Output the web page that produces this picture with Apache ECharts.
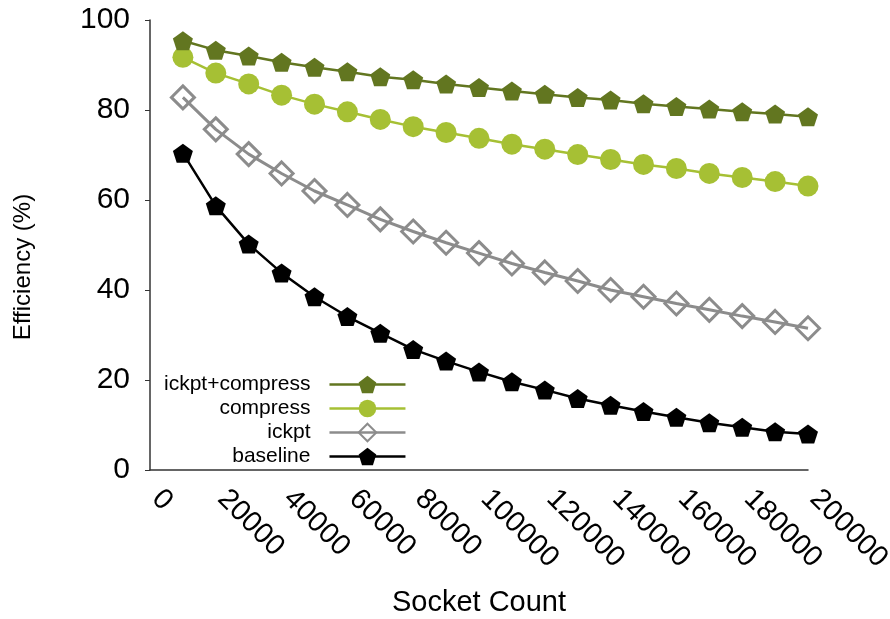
<!DOCTYPE html>
<html>
<head>
<meta charset="utf-8">
<script src="https://cdn.jsdelivr.net/npm/echarts@6/dist/echarts.min.js"></script>
<style>
  html, body { margin: 0; padding: 0; background: #fff; }
  #chart { width: 890px; height: 619px; }
</style>
</head>
<body>
<div id="chart"></div>
<script>
// Socket counts on the x axis
const socketCounts = [10000, 20000, 30000, 40000, 50000, 60000, 70000, 80000, 90000, 100000,
  110000, 120000, 130000, 140000, 150000, 160000, 170000, 180000, 190000, 200000];

// Efficiency (%) for each configuration
const ickptCompress = [95.4, 93.3, 92.0, 90.6, 89.5, 88.5, 87.4, 86.7, 85.8, 85.0,
  84.2, 83.5, 82.8, 82.2, 81.4, 80.8, 80.2, 79.6, 79.1, 78.5];
const compress = [91.7, 88.2, 85.8, 83.3, 81.3, 79.6, 77.9, 76.3, 75.0, 73.7,
  72.4, 71.3, 70.1, 69.0, 67.9, 67.0, 65.9, 65.0, 64.1, 63.1];
const ickpt = [82.8, 75.7, 70.2, 65.9, 62.0, 58.9, 55.7, 53.0, 50.5, 48.2,
  45.9, 43.9, 42.0, 40.0, 38.5, 37.0, 35.6, 34.2, 32.9, 31.5];
const baseline = [70.4, 58.7, 50.2, 43.8, 38.5, 34.1, 30.4, 26.8, 24.2, 21.8,
  19.6, 17.8, 15.9, 14.4, 13.0, 11.7, 10.5, 9.5, 8.5, 8.0];

const seriesNames = ['ickpt+compress', 'compress', 'ickpt', 'baseline'];

const FONT = "'Liberation Sans', Arial, Helvetica, sans-serif";
const PENTAGON = 'path://M0,-1 L0.951,-0.309 L0.588,0.809 L-0.588,0.809 L-0.951,-0.309 Z';

function pairs(values) {
  return values.map((v, i) => [socketCounts[i], v]);
}

const chart = echarts.init(document.getElementById('chart'), null, { renderer: 'canvas' });

chart.setOption({
  animation: false,
  backgroundColor: '#ffffff',
  textStyle: { fontFamily: FONT },
  grid: {
    left: 150, right: 82, top: 20, bottom: 149,
    containLabel: false,
    outerBoundsMode: 'none'
  },
  legend: {
    orient: 'vertical',
    align: 'right',
    left: 159,
    top: 369,
    itemWidth: 76,
    itemHeight: 22,
    itemGap: 3,
    data: seriesNames,
    lineStyle: { width: 2.5 },
    textStyle: {
      fontFamily: FONT,
      fontSize: 21,
      lineHeight: 21,
      color: '#000',
      padding: [0, 14, 0, 0]
    }
  },
  xAxis: {
    type: 'value',
    min: 0,
    max: 200000,
    interval: 20000,
    name: 'Socket Count',
    nameLocation: 'middle',
    nameGap: 118,
    nameMoveOverlap: false,
    nameTextStyle: { fontFamily: FONT, fontSize: 29, color: '#000' },
    axisLine: { show: true, onZero: false, lineStyle: { color: '#333', width: 1.5 } },
    axisTick: { show: false },
    splitLine: { show: false },
    axisLabel: {
      rotate: -45,
      fontFamily: FONT,
      fontSize: 29,
      color: '#000',
      margin: 18,
      padding: [0, 0, 0, 9],
      hideOverlap: false,
      formatter: (v) => String(v)
    }
  },
  yAxis: {
    type: 'value',
    min: 0,
    max: 100,
    interval: 20,
    name: 'Efficiency (%)',
    nameLocation: 'middle',
    nameGap: 115,
    nameMoveOverlap: false,
    nameTextStyle: { fontFamily: FONT, fontSize: 24, color: '#000', padding: [0, 44, 0, 0] },
    axisLine: { show: true, lineStyle: { color: '#333', width: 1.5 } },
    axisTick: { show: true, inside: false, length: 5, lineStyle: { color: '#333', width: 1 } },
    splitLine: { show: false },
    axisLabel: { fontFamily: FONT, fontSize: 30, color: '#000', margin: 20 }
  },
  series: [
    {
      name: 'ickpt+compress',
      type: 'line',
      data: pairs(ickptCompress),
      symbol: PENTAGON,
      symbolSize: [20, 19],
      lineStyle: { color: '#627620', width: 2.5 },
      itemStyle: { color: '#627620' },
      z: 4
    },
    {
      name: 'compress',
      type: 'line',
      data: pairs(compress),
      symbol: 'circle',
      symbolSize: 21,
      lineStyle: { color: '#a6c034', width: 2.5 },
      itemStyle: { color: '#a6c034' },
      z: 3
    },
    {
      name: 'ickpt',
      type: 'line',
      data: pairs(ickpt),
      symbol: 'diamond',
      symbolSize: 23,
      lineStyle: { color: '#8c8c8c', width: 3 },
      itemStyle: { color: 'rgba(255,255,255,0)', borderColor: '#8c8c8c', borderWidth: 3 },
      z: 2
    },
    {
      name: 'baseline',
      type: 'line',
      data: pairs(baseline),
      symbol: PENTAGON,
      symbolSize: [20, 19],
      lineStyle: { color: '#000000', width: 2.5 },
      itemStyle: { color: '#000000' },
      z: 1
    }
  ]
});
</script>
</body>
</html>
